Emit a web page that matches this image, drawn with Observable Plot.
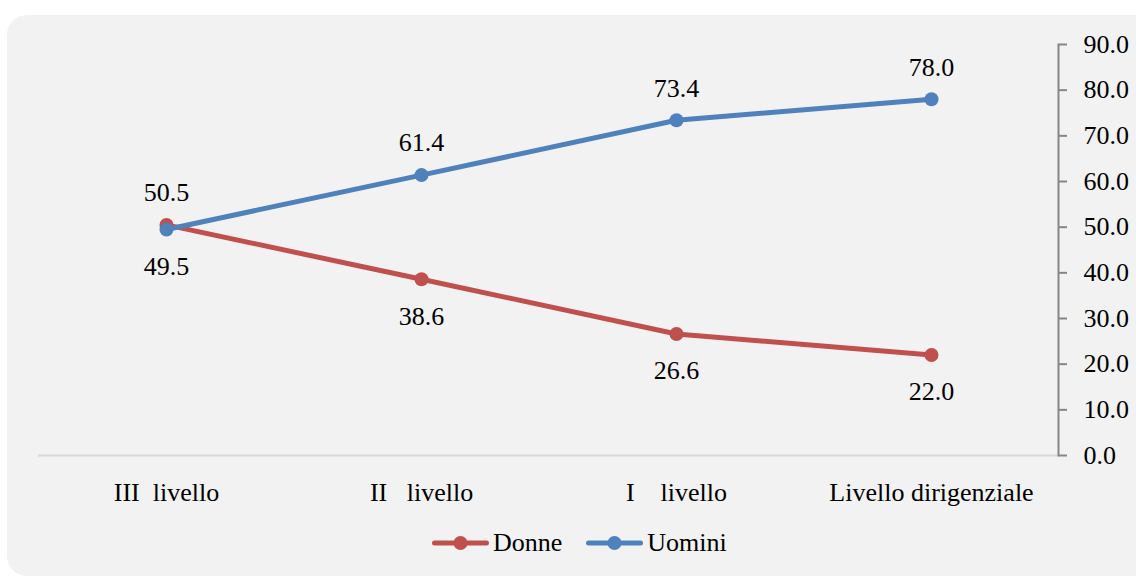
<!DOCTYPE html>
<html>
<head>
<meta charset="utf-8">
<script src="https://cdn.jsdelivr.net/npm/d3@7"></script>
<script src="https://cdn.jsdelivr.net/npm/@observablehq/plot@0.6"></script>
<style>
  html, body { margin: 0; padding: 0; background: #ffffff; width: 1136px; height: 577px; overflow: hidden; }
  #bg { position: absolute; left: 7px; top: 15px; width: 1150px; height: 561px; background: #f2f2f2; border-radius: 20px; }
  #chart { position: absolute; left: 0; top: 0; }
  #chart svg text { white-space: pre; }
  #legend { position: absolute; left: 432px; top: 528px; display: flex; align-items: center; height: 30px;
            font-family: "Liberation Serif", serif; font-size: 26px; color: #000; }
  .item { display: flex; align-items: center; }
  .item svg { display: block; }
</style>
</head>
<body>
<div id="bg"></div>
<div id="chart"></div>
<div id="legend"></div>
<script>
const categories = ["III  livello", "II   livello", "I    livello", "Livello dirigenziale"];
const donne = [50.5, 38.6, 26.6, 22.0];
const uomini = [49.5, 61.4, 73.4, 78.0];
const yTicks = [0, 10, 20, 30, 40, 50, 60, 70, 80, 90];
const seriesNames = ["Donne", "Uomini"];
const seriesColors = ["#C0504D", "#4F81BD"];

const rows = [];
categories.forEach((c, i) => {
  rows.push({cat: c, series: "Donne", value: donne[i], above: donne[i] >= uomini[i]});
});
categories.forEach((c, i) => {
  rows.push({cat: c, series: "Uomini", value: uomini[i], above: uomini[i] > donne[i]});
});

const font = "Liberation Serif";
const fmt = d3.format(".1f");

const plot = Plot.plot({
  width: 1136,
  height: 500,
  marginLeft: 38,
  marginRight: 78,
  marginTop: 44,
  marginBottom: 45,
  style: {background: "transparent", fontFamily: font, fontSize: "26px", color: "#000", overflow: "visible"},
  x: {type: "point", domain: categories, padding: 0.5, label: null},
  y: {domain: [0, 90], label: null},
  color: {domain: seriesNames, range: seriesColors},
  marks: [
    Plot.ruleY([0], {stroke: "#d9d9d9", strokeWidth: 2}),
    Plot.frame({anchor: "right", stroke: "#868686", strokeWidth: 2}),
    Plot.axisY({anchor: "right", ticks: yTicks, tickFormat: fmt, tickSize: 8, tickPadding: 17,
                stroke: "#868686", strokeWidth: 2, fill: "#000", fontSize: 26, label: null}),
    Plot.axisX({anchor: "bottom", tickSize: 0, tickPadding: 27, fill: "#000", fontSize: 26, label: null}),
    Plot.line(rows, {x: "cat", y: "value", z: "series", stroke: "series", strokeWidth: 5,
                     strokeLinecap: "round", strokeLinejoin: "round"}),
    Plot.dot(rows.filter(d => d.series === "Donne"), {x: "cat", y: "value", r: 7, fill: "series", stroke: null}),
    Plot.dot(rows.filter(d => d.series === "Uomini"), {x: "cat", y: "value", r: 7, fill: "series", stroke: null}),
    Plot.text(rows, {filter: d => d.above, x: "cat", y: "value", text: d => fmt(d.value),
                     dy: -32, lineAnchor: "middle", fill: "#000", fontSize: 26}),
    Plot.text(rows, {filter: d => !d.above, x: "cat", y: "value", text: d => fmt(d.value),
                     dy: 37, lineAnchor: "middle", fill: "#000", fontSize: 26})
  ]
});
document.getElementById("chart").appendChild(plot);

// Legend
const legend = document.getElementById("legend");
seriesNames.forEach((name, i) => {
  const item = document.createElement("div");
  item.className = "item";
  item.style.marginRight = i === 0 ? "24px" : "0";
  const sw = d3.create("svg").attr("width", 57).attr("height", 16);
  sw.append("line").attr("x1", 2.5).attr("x2", 54.5).attr("y1", 8).attr("y2", 8)
    .attr("stroke", seriesColors[i]).attr("stroke-width", 5).attr("stroke-linecap", "round");
  sw.append("circle").attr("cx", 28.5).attr("cy", 8).attr("r", 7).attr("fill", seriesColors[i]);
  item.appendChild(sw.node());
  const t = document.createElement("span");
  t.textContent = name;
  t.style.marginLeft = "4px";
  item.appendChild(t);
  legend.appendChild(item);
});
</script>
</body>
</html>
